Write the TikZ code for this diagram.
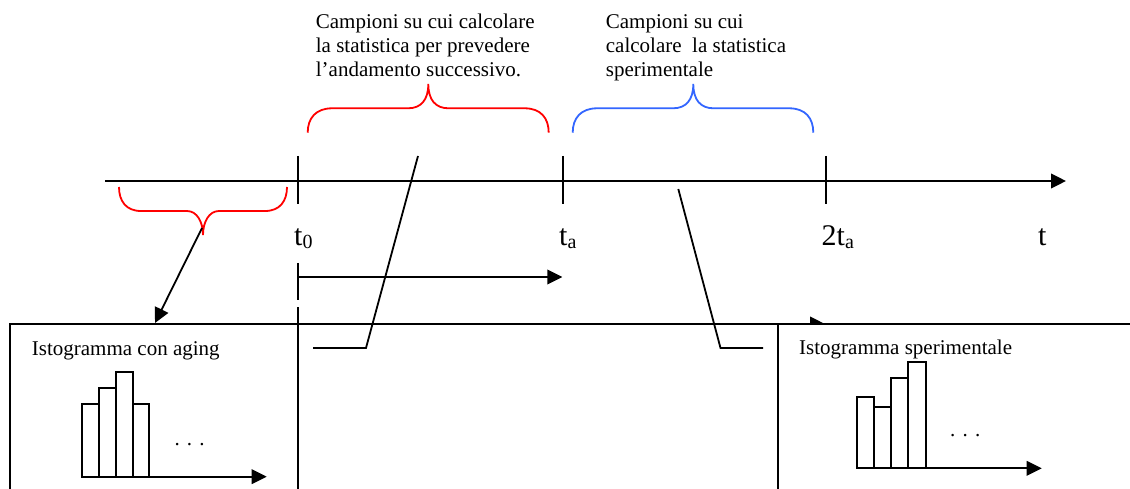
\documentclass[tikz,border=0pt]{standalone}
\usepackage{fontspec}
\setmainfont{Liberation Serif}
\usetikzlibrary{arrows.meta}
\definecolor{bred}{RGB}{255,0,0}
\definecolor{bblue}{RGB}{51,102,255}
\newcommand\mysub[1]{\raisebox{-2.5pt}{\fontsize{20}{20}\selectfont #1}}
\begin{document}
\begin{tikzpicture}[x=1pt,y=-1pt,
  ln/.style={line width=1.8pt},
  myaxis/.style={line width=2pt},
  arr/.style={-{Triangle[length=15pt,width=14.6pt]}},
  bracered/.style={line width=1.8pt, bred},
  braceblue/.style={line width=1.8pt, bblue},
  txt/.style={anchor=base west, inner sep=0pt, font=\fontsize{21}{24}\selectfont},
  lab/.style={anchor=base west, inner sep=0pt, font=\fontsize{30}{30}\selectfont},
  histbar/.style={line width=1.8pt, fill=white}]

\useasboundingbox (0,0) rectangle (1130,489);
\fill[white] (0,0) rectangle (1130,489);

% ---- time axis
\coordinate (tl0) at (105,181);
\coordinate (tl1) at (1066,181);
\draw[myaxis,arr] (tl0) -- (tl1);
\coordinate (t0a) at (298,156);   \coordinate (t0b) at (298,204);
\coordinate (taa) at (562.7,156); \coordinate (tab) at (562.7,204);
\coordinate (tba) at (825.7,156); \coordinate (tbb) at (825.7,204);
\draw[myaxis] (t0a) -- (t0b);
\draw[myaxis] (taa) -- (tab);
\draw[myaxis] (tba) -- (tbb);

% ---- labels
\node[lab] (lt0) at (294,246) {t\mysub{0}};
\node[lab] (lta) at (559,246) {t\mysub{a}};
\node[lab] (l2ta) at (821.5,246) {2t\mysub{a}};
\node[lab] (lt) at (1038,246) {t};

% ---- texts above
\node[txt] (txtA) at (315.7,28.3) {\parbox[t]{300pt}{Campioni su cui calcolare\\la statistica per prevedere\\l’andamento successivo.}};
\node[txt] (txtB) at (605.7,28.3) {\parbox[t]{300pt}{Campioni su cui\\calcolare\ \ la statistica\\sperimentale}};

% ---- braces
\draw[bracered] (307.7,132.7) .. controls (307.7,118) and (316,108.3) .. (332,108.3)
  -- (408,108.3) .. controls (421,108.3) and (428.3,100) .. (428.3,84)
  .. controls (428.3,100) and (435.6,108.3) .. (448.6,108.3)
  -- (524.7,108.3) .. controls (540.7,108.3) and (548.7,118) .. (548.7,132.7);
\draw[braceblue] (572.7,132.7) .. controls (572.7,118) and (581,108.3) .. (597,108.3)
  -- (673,108.3) .. controls (686,108.3) and (693.3,100) .. (693.3,84)
  .. controls (693.3,100) and (700.6,108.3) .. (713.6,108.3)
  -- (789.3,108.3) .. controls (805.3,108.3) and (813.3,118) .. (813.3,132.7);
\draw[bracered] (119,187) .. controls (119,201) and (126,211) .. (141,211)
  -- (187,211) .. controls (197,211) and (203,222) .. (203,235)
  .. controls (203,222) and (209,211) .. (219,211)
  -- (265,211) .. controls (280,211) and (287,201) .. (287,187);

% ---- t0 guide and interval arrow
\coordinate (g0) at (298,263); \coordinate (g1) at (298,300);
\coordinate (g2) at (298,307); \coordinate (g3) at (298,492);
\draw[ln] (g0) -- (g1);
\draw[ln] (g2) -- (g3);
\coordinate (ia) at (298,277); \coordinate (ib) at (562.3,277);
\draw[ln,arr] (ia) -- (ib);

% ---- boxes
\coordinate (bl) at (10,492); \coordinate (btl) at (10,324); \coordinate (btr) at (1132,324);
\draw[ln] (bl) -- (btl) -- (btr);
\coordinate (ha) at (562.7,324); \coordinate (hb) at (825,324);
\draw[ln,arr] (ha) -- (hb);
\fill[white] (778.3,324.9) rectangle (1135,495);
\coordinate (rb0) at (778.3,324); \coordinate (rb1) at (778.3,492);
\draw[ln] (rb0) -- (rb1);

% ---- connectors
\coordinate (bc) at (202,228); \coordinate (boxA) at (155,323);
\draw[ln,arr] (bc) -- (boxA);
\coordinate (sa0) at (418,156); \coordinate (sa1) at (366,348); \coordinate (sa2) at (313,348);
\draw[ln] (sa0) -- (sa1) -- (sa2);
\coordinate (sb0) at (678.3,189); \coordinate (sb1) at (720.5,348); \coordinate (sb2) at (763,348);
\draw[ln] (sb0) -- (sb1) -- (sb2);

% ---- box titles
\node[txt] (hA) at (31.7,355) {Istogramma con aging};
\node[txt] (hB) at (799,354) {Istogramma sperimentale};

% ---- left histogram
\draw[histbar] (81.7,476.7) rectangle (99,404.3);
\draw[histbar] (99,476.7) rectangle (116,387.7);
\draw[histbar] (116,476.7) rectangle (133.3,372);
\draw[histbar] (133.3,476.7) rectangle (149,403.7);
\coordinate (xa0) at (81.7,476.7); \coordinate (xa1) at (266.7,476.7);
\draw[ln,arr] (xa0) -- (xa1);
\node[txt] (dA) at (174.3,445.5) {.\hspace{7.25pt}.\hspace{7.25pt}.};

% ---- right histogram
\draw[histbar] (856.7,468.3) rectangle (874.3,396.7);
\draw[histbar] (874.3,468.3) rectangle (891,407.3);
\draw[histbar] (891,468.3) rectangle (908.3,377.7);
\draw[histbar] (908.3,468.3) rectangle (925.7,362);
\coordinate (xb0) at (856.7,468.3); \coordinate (xb1) at (1041.7,468.3);
\draw[ln,arr] (xb0) -- (xb1);
\node[txt] (dB) at (950,436.5) {.\hspace{7.25pt}.\hspace{7.25pt}.};
\end{tikzpicture}
\end{document}
